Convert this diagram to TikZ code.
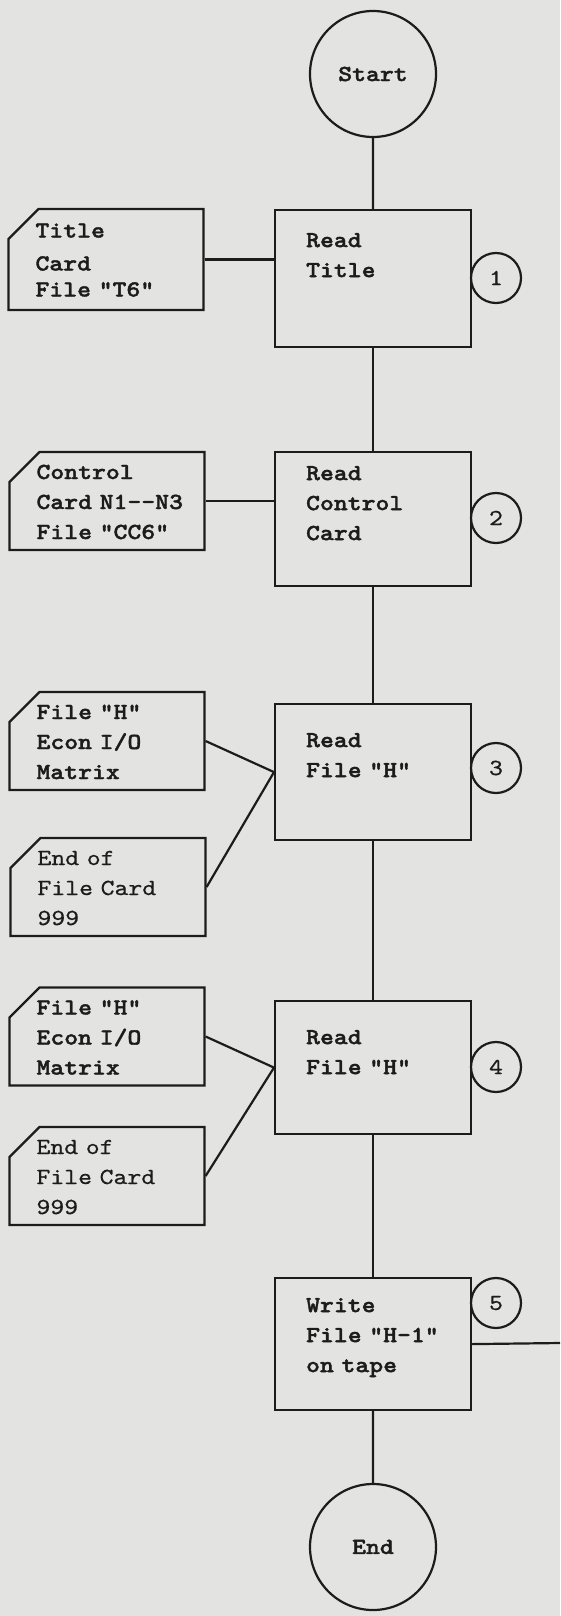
\documentclass[tikz,border=0pt]{standalone}
\usepackage{fontspec}
\usepackage{tikz}
\usetikzlibrary{shapes.misc}
\newfontfamily\typer{lmmono10-regular}[Extension=.otf, BoldFont=lmmonolt10-bold,
    FakeStretch=1.15, UprightFeatures={FakeBold=0.6}, BoldFeatures={FakeBold=1.6}]
\definecolor{paper}{RGB}{227,227,225}
\definecolor{ink}{RGB}{28,28,28}

\begin{document}
\begin{tikzpicture}[
    x=1pt, y=-1pt,
    line width=2.2pt, color=ink,
    font=\typer\bfseries\fontsize{23pt}{30pt}\selectfont,
    plainfont/.style={font=\typer\fontsize{23pt}{30pt}\selectfont},
    term/.style={circle, draw, minimum size=126pt, inner sep=0pt},
    proc/.style 2 args={rectangle, draw, anchor=north west, minimum width=196pt,
        text width=134pt, align=left, inner sep=0pt, text height=#1, text depth=#2},
    card/.style={chamfered rectangle, chamfered rectangle corners=north west,
        chamfered rectangle xsep=13pt, chamfered rectangle ysep=17pt, draw,
        minimum width=195pt, minimum height=98pt, text width=141pt, align=left,
        inner sep=0pt, text height=6pt, text depth=50pt},
    refno/.style={circle, draw, minimum size=50pt, inner sep=0pt, plainfont}
]
\useasboundingbox (0,0) rectangle (560,1616);
\fill[paper] (0,0) rectangle (560,1616);

\node[term] (start) at (373,74) {Start};
\node[proc={37pt}{100pt}] (p1) at (274,209) {Read\\Title};
\node[card, minimum height=101pt] (c1) at (106,259.5) {Title\\[3pt]Card\\[-4pt]File "T6"};
\node[refno] (r1) at (496,278) {1};

\node[proc={28pt}{106pt}] (p2) at (274,451) {Read\\Control\\Card};
\node[card] (c2) at (107,501) {Control\\\mbox{Card N1-{}-N3}\\File "CC6"};
\node[refno] (r2) at (496,518) {2};

\node[proc={43pt}{93pt}] (p3) at (274,703) {Read\\File "H"};
\node[card] (c3) at (107,741) {File "H"\\Econ I/O\\Matrix};
\node[card, plainfont] (c4) at (108,887) {End of\\File Card\\999};
\node[refno] (r3) at (496,768) {3};

\node[proc={43pt}{90pt}] (p4) at (274,1000) {Read\\File "H"};
\node[card] (c5) at (107,1036.5) {File "H"\\Econ I/O\\Matrix};
\node[card, plainfont] (c6) at (107,1176) {End of\\File Card\\999};
\node[refno] (r4) at (496,1067) {4};

\node[proc={34pt}{98pt}] (p5) at (274,1277) {Write\\\mbox{File "H-1"}\\on tape};
\node[refno] (r5) at (496,1303) {5};
\coordinate (offpage) at (560,1343);

\node[term] (end) at (373,1547) {End};

\draw (start) -- (p1);
\draw (p1) -- (p2);
\draw (p2) -- (p3);
\draw (p3) -- (p4);
\draw (p4) -- (p5);
\draw (p5) -- (end);

\draw (c1.east) -- (c1.east -| p1.west);
\draw (c2.east) -- (c2.east -| p2.west);
\draw (c3.east) -- (p3.west);
\draw (c4.east) -- (p3.west);
\draw (c5.east) -- (p4.west);
\draw (c6.east) -- (p4.west);
\draw (p5.east) -- (offpage);
\end{tikzpicture}
\end{document}
